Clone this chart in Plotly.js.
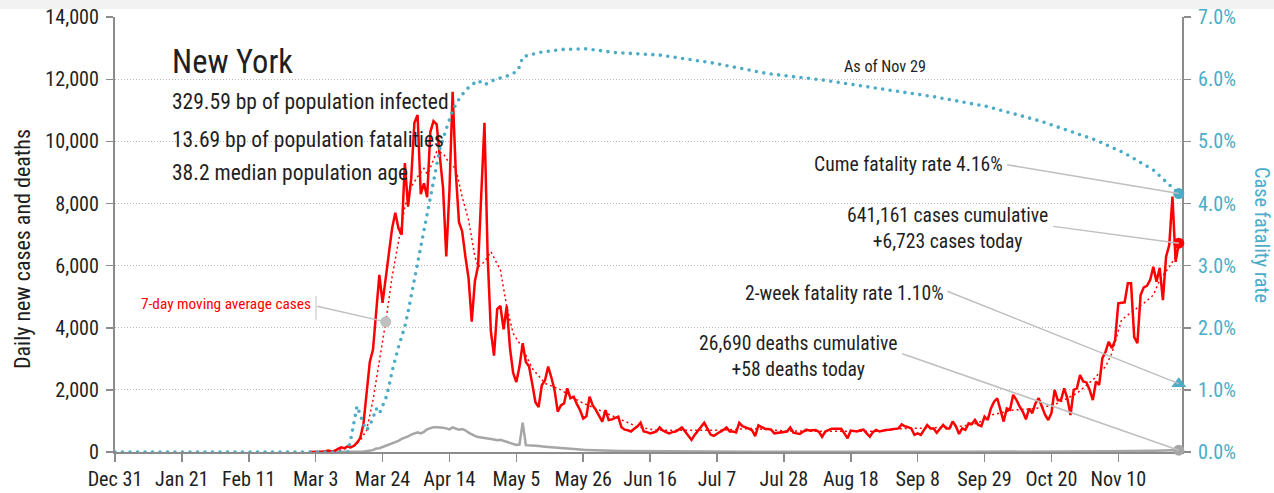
<!DOCTYPE html>
<html><head><meta charset="utf-8">
<script src="https://cdn.plot.ly/plotly-3.0.1.min.js"></script>
<style>
html,body{margin:0;padding:0;background:#ffffff;overflow:hidden;}
#chart{position:absolute;left:0;top:0;width:1274px;height:493px;}
.tracecfr path.js-line{stroke-linecap:round !important;}
</style></head><body><div id="chart"></div>
<script>
// ---------- data ----------
const stateName = 'New York';
const bpInfected = 329.59;
const bpFatalities = 13.69;
const medianAge = 38.2;
const asOfLabel = 'Nov 29';
const casesCumulative = 641161;
const deathsCumulative = 26690;
const cumeFatalityRate = 0.0416;
const twoWeekFatalityRate = 0.0110;

const seriesStart = '2020-03-01';
const dailyCases = [
  1, 0, 1, 9, 11, 22, 44,
  20, 40, 100, 150, 120, 180, 150,
  200, 300, 450, 900, 1800, 2900, 3300,
  4400, 5700, 4800, 5600, 6500, 7200, 7700,
  7200, 7000, 9300, 7900, 8800, 10600, 10850,
  8300, 8650, 8200, 10300, 10650, 10550, 9500,
  8500, 6300, 8400, 11600, 9000, 7400, 7100,
  6300, 5600, 4200, 5500, 6000, 8300, 10600,
  6300, 3900, 3100, 4600, 4700, 3950, 4700,
  3350, 2550, 2250, 2750, 3500, 2900, 2750,
  2200, 1600, 1450, 2150, 2300, 2750, 2400,
  2000, 1300, 1500, 1570, 2050, 1730, 1780,
  1550, 1350, 1080, 1150, 1780, 1500, 1350,
  1150, 980, 1350, 1030, 1050, 1100, 1140,
  800, 720, 700, 660, 750, 820, 940,
  660, 640, 600, 630, 660, 790, 690,
  640, 600, 640, 660, 720, 790, 660,
  520, 390, 550, 690, 800, 940, 750,
  560, 520, 600, 650, 710, 790, 660,
  660, 630, 940, 830, 800, 750, 700,
  510, 860, 800, 750, 740, 720, 600,
  610, 630, 650, 660, 790, 620, 600,
  580, 650, 720, 690, 700, 710, 650,
  490, 660, 700, 750, 750, 760, 750,
  600, 440, 690, 680, 660, 700, 720,
  600, 490, 650, 710, 660, 690, 710,
  720, 730, 750, 760, 890, 830, 800,
  760, 550, 600, 550, 700, 870, 760,
  760, 620, 760, 870, 760, 760, 980,
  830, 580, 760, 710, 920, 900, 1030,
  870, 830, 1140, 1030, 1400, 1620, 1730,
  1360, 980, 1400, 1360, 1840, 1680, 1470,
  1300, 1050, 1400, 1250, 1570, 1730, 1470,
  1200, 1030, 1250, 2000, 1670, 1670, 2050,
  1730, 1190, 2000, 2050, 2480, 2270, 2240,
  2000, 1670, 2270, 2160, 3020, 3230, 3550,
  3340, 3600, 4790, 4800, 4820, 5430, 5430,
  3700, 3500, 5050, 5300, 5350, 5540, 5960,
  5480, 5930, 4890, 6290, 6660, 8220, 6120,
  6723
];
const dailyDeaths = [
  0, 0, 0, 0, 0, 0, 0,
  0, 0, 0, 0, 0, 0, 2,
  3, 5, 10, 20, 30, 40, 60,
  110, 120, 160, 200, 220, 270, 300,
  360, 420, 450, 500, 560, 590, 630,
  600, 650, 730, 770, 800, 800, 800,
  780, 760, 730, 790, 760, 720, 740,
  700, 620, 560, 520, 480, 470, 460,
  440, 420, 400, 380, 390, 360, 330,
  300, 260, 230, 240, 945, 220, 220,
  220, 200, 190, 170, 170, 160, 150,
  140, 130, 120, 110, 105, 100, 90,
  80, 75, 70, 65, 60, 55, 55,
  50, 45, 45, 40, 40, 35, 35,
  30, 30, 30, 25, 25, 25, 25,
  22, 20, 18, 20, 17, 15, 14,
  13, 15, 16, 12, 14, 11, 10,
  12, 13, 32, 17, 13, 12, 10,
  9, 11, 12, 10, 9, 11, 8,
  10, 9, 12, 11, 8, 10, 9,
  7, 9, 8, 10, 8, 7, 6,
  8, 7, 9, 6, 8, 7, 6,
  5, 7, 6, 8, 7, 6, 5,
  5, 6, 7, 5, 6, 8, 5,
  4, 5, 6, 5, 7, 6, 5,
  4, 5, 6, 7, 5, 6, 4,
  5, 6, 5, 7, 6, 5, 4,
  5, 6, 7, 5, 6, 8, 5,
  6, 5, 7, 8, 6, 7, 5,
  6, 7, 8, 9, 7, 8, 6,
  9, 8, 10, 12, 11, 9, 10,
  12, 10, 13, 11, 14, 12, 11,
  13, 12, 14, 16, 13, 15, 12,
  14, 16, 18, 15, 17, 14, 16,
  15, 18, 17, 20, 19, 22, 18,
  21, 24, 26, 22, 25, 28, 24,
  27, 30, 29, 33, 31, 35, 32,
  34, 38, 36, 40, 37, 42, 39,
  45, 42, 48, 51, 47, 53, 55,
  58
];

const maDates = ['2020-03-01','2020-03-10','2020-03-13','2020-03-15','2020-03-17','2020-03-19','2020-03-21','2020-03-23','2020-03-25','2020-03-27','2020-03-29','2020-03-31','2020-04-02','2020-04-04','2020-04-06','2020-04-07','2020-04-08','2020-04-10','2020-04-12','2020-04-14','2020-04-16','2020-04-18','2020-04-20','2020-04-22','2020-04-23','2020-04-25','2020-04-27','2020-04-30','2020-05-02','2020-05-04','2020-05-07','2020-05-10','2020-05-14','2020-05-19','2020-05-25','2020-05-31','2020-06-06','2020-06-12','2020-06-18','2020-06-28','2020-07-08','2020-07-18','2020-07-28','2020-08-07','2020-08-17','2020-08-27','2020-09-02','2020-09-11','2020-09-22','2020-09-27','2020-10-01','2020-10-08','2020-10-15','2020-10-18','2020-10-22','2020-10-28','2020-11-02','2020-11-06','2020-11-08','2020-11-11','2020-11-15','2020-11-18','2020-11-21','2020-11-23','2020-11-26','2020-11-28'];
const maCases = [0,50,120,180,380,700,1670,2960,4190,5640,6820,7900,8540,8860,9130,8950,9150,9670,9620,9290,9130,8220,7470,6290,5960,6120,6450,5860,4680,3820,3340,2690,2210,2000,1620,1350,1080,810,700,690,700,760,680,670,680,670,750,770,830,930,1190,1350,1400,1450,1570,1890,2320,2750,3180,4250,4570,4790,5050,5540,5960,6290];
const maLabelDate = '2020-03-25';

const cfrDates = ['2019-12-31','2020-03-12','2020-03-13','2020-03-14','2020-03-15','2020-03-16','2020-03-17','2020-03-18','2020-03-19','2020-03-20','2020-03-21','2020-03-22','2020-03-23','2020-03-24','2020-03-25','2020-03-26','2020-03-27','2020-03-29','2020-03-31','2020-04-01','2020-04-03','2020-04-05','2020-04-07','2020-04-09','2020-04-11','2020-04-13','2020-04-15','2020-04-17','2020-04-19','2020-04-21','2020-04-23','2020-04-25','2020-04-28','2020-05-02','2020-05-05','2020-05-06','2020-05-07','2020-05-12','2020-05-19','2020-05-27','2020-06-05','2020-06-19','2020-07-06','2020-07-23','2020-08-09','2020-08-27','2020-09-13','2020-09-30','2020-10-17','2020-11-03','2020-11-12','2020-11-21','2020-11-29'];
const cfrRates = [0,0,0,0.002,0.0045,0.0074,0.006,0.0045,0.0035,0.0043,0.0055,0.007,0.0062,0.0075,0.0086,0.0105,0.013,0.0169,0.0202,0.0225,0.0277,0.033,0.0385,0.044,0.0488,0.052,0.055,0.0568,0.0582,0.0591,0.0598,0.0591,0.0599,0.0605,0.0612,0.062,0.0636,0.0643,0.0648,0.0649,0.0643,0.0639,0.0626,0.0609,0.0599,0.0585,0.0572,0.0556,0.0532,0.0502,0.0481,0.0454,0.0416];

const xTickStart = '2019-12-31';
const xRangeEnd = '2020-11-30';

// ---------- helpers ----------
function dayList(start, n){
  const out = []; const t0 = Date.parse(start + 'T00:00:00Z');
  for (let i = 0; i < n; i++) out.push(new Date(t0 + i * 864e5).toISOString().slice(0, 10));
  return out;
}
const dates = dayList(seriesStart, dailyCases.length);
const lastDate = dates[dates.length - 1];
const casesToday = dailyCases[dailyCases.length - 1];
const deathsToday = dailyDeaths[dailyDeaths.length - 1];
const maLabelValue = maCases[maDates.indexOf(maLabelDate)];
const fmt = v => v.toLocaleString('en-US');
const pct = v => (v * 100).toFixed(2) + '%';

// pick a narrow font that is actually installed
const ctx = document.createElement('canvas').getContext('2d');
function hasFont(name){
  const s = 'abcdefghijklmnopqrstuvwxyzABCDEFGHIJ0123456789';
  for (const base of ['monospace', 'serif']) {
    ctx.font = '40px ' + base; const a = ctx.measureText(s).width;
    ctx.font = '40px "' + name + '", ' + base; const b = ctx.measureText(s).width;
    if (Math.abs(a - b) > 0.5) return true;
  }
  return false;
}
const candidates = ['Liberation Sans Narrow', 'Arial Narrow', 'Roboto Condensed', 'Noto Sans Condensed',
                    'Open Sans Condensed', 'DejaVu Sans Condensed', 'Liberation Sans', 'Roboto'];
const chosen = candidates.find(hasFont) || 'sans-serif';
const FONT = '"' + chosen + '", sans-serif';
// font size that gives a text the width it has in the reference
function fit(text, targetPx, maxSize){
  ctx.font = '100px ' + FONT;
  const w = ctx.measureText(text).width;
  return Math.min(maxSize, 100 * targetPx / w);
}

const RED = '#ff0000', BLUE = '#4bacc6', GRAY = '#a6a6a6', AXIS = '#8c8c8c', LEADER = '#bfbfbf', TXT = '#1f1f1f';

const traces = [
  {x: dates, y: dailyDeaths, type: 'scatter', mode: 'lines', line: {color: GRAY, width: 2.5}, hoverinfo: 'skip'},
  {x: cfrDates, y: cfrRates, yaxis: 'y2', type: 'scatter', mode: 'lines', uid: 'cfr',
   line: {color: BLUE, width: 3.6, dash: '0px,7.5px'}, hoverinfo: 'skip'},
  {x: maDates, y: maCases, type: 'scatter', mode: 'lines', line: {color: RED, width: 1.5, dash: '2px,3px'}, hoverinfo: 'skip'},
  {x: dates, y: dailyCases, type: 'scatter', mode: 'lines', line: {color: RED, width: 2.5}, hoverinfo: 'skip'},
  {x: [maLabelDate], y: [maLabelValue], type: 'scatter', mode: 'markers', marker: {color: LEADER, size: 11}, cliponaxis: false},
  {x: [lastDate], y: [cumeFatalityRate], yaxis: 'y2', type: 'scatter', mode: 'markers', marker: {color: BLUE, size: 11}, cliponaxis: false},
  {x: [lastDate], y: [casesToday], type: 'scatter', mode: 'markers', marker: {color: RED, size: 11}, cliponaxis: false},
  {x: [lastDate], y: [twoWeekFatalityRate], yaxis: 'y2', type: 'scatter', mode: 'markers', marker: {color: BLUE, size: 13, symbol: 'triangle-up'}, cliponaxis: false},
  {x: [lastDate], y: [deathsToday], type: 'scatter', mode: 'markers', marker: {color: GRAY, size: 11}, cliponaxis: false}
];

// plot area in page pixels: left 115, right 1182, top 17, bottom 452
const PX = px => (px - 115) / 1067;
const PY = py => (452 - py) / 435;

function leader(x, y, yref, ax, ay){
  return {x: x, y: y, xref: 'x', yref: yref, text: '', showarrow: true, arrowhead: 0,
          arrowwidth: 1.5, arrowcolor: LEADER, ax: ax, ay: ay, standoff: 0};
}
function label(text, px, py, size, anchor, color, angle){
  return {x: PX(px), y: PY(py), xref: 'paper', yref: 'paper', text: text, showarrow: false,
          xanchor: anchor, yanchor: 'middle', align: 'center', textangle: angle || 0,
          font: {family: FONT, size: size, color: color || TXT}};
}

const t1 = 'Cume fatality rate ' + pct(cumeFatalityRate);
const t2a = fmt(casesCumulative) + ' cases cumulative', t2b = '+' + fmt(casesToday) + ' cases today';
const t3 = '2-week fatality rate ' + pct(twoWeekFatalityRate);
const t4a = fmt(deathsCumulative) + ' deaths cumulative', t4b = '+' + fmt(deathsToday) + ' deaths today';
const s1 = bpInfected.toFixed(2) + ' bp of population infected';
const s2 = bpFatalities.toFixed(2) + ' bp of population fatalities';
const s3 = medianAge.toFixed(1) + ' median population age';
const noteSize = (fit(t1, 187, 21) + fit(t2a, 200, 21) + fit(t3, 201, 21) + fit(t4a, 200, 21)) / 4;
const statSize = (fit(s1, 278, 24) + fit(s2, 272, 24) + fit(s3, 235, 24)) / 3;
const tickSize = (fit('14,000', 54, 21) + fit('Dec 31', 53, 21) + fit('7.0%', 39, 21)) / 3;

const annotations = [
  leader(lastDate, cumeFatalityRate, 'y2', -173, -29),
  leader(lastDate, casesToday, 'y', -127, -17),
  leader(lastDate, twoWeekFatalityRate, 'y2', -233, -93),
  leader(lastDate, deathsToday, 'y', -278, -97),
  leader(maLabelDate, maLabelValue, 'y', -70, -16),
  label(stateName, 170, 62, fit(stateName, 121, 33), 'left'),
  label(s1, 170, 102, statSize, 'left'),
  label(s2, 170, 139, statSize, 'left'),
  label(s3, 170, 172, statSize, 'left'),
  label('As of ' + asOfLabel, 885, 66, fit('As of ' + asOfLabel, 82, 17), 'center'),
  label(t1, 1005, 164, noteSize, 'right'),
  label(t2a + '<br>' + t2b, 1050, 228, noteSize, 'right'),
  label(t3, 946, 293, noteSize, 'right'),
  label(t4a + '<br>' + t4b, 900, 356, noteSize, 'right'),
  label('7-day moving average cases', 313, 304, fit('7-day moving average cases', 170, 16), 'right', RED),
  label('Daily new cases and deaths', 22, 249, fit('Daily new cases and deaths', 262, 22), 'center', TXT, -90),
  label('Case fatality rate', 1262, 235, fit('Case fatality rate', 136, 22), 'center', BLUE, 90)
];

const shapes = [
  {type: 'rect', xref: 'paper', yref: 'paper', x0: PX(0), x1: PX(1274), y0: PY(9), y1: PY(0),
   fillcolor: '#f2f2f2', line: {width: 0}, layer: 'below'},
  {type: 'line', xref: 'paper', yref: 'paper', x0: PX(316), x1: PX(316), y0: PY(320), y1: PY(296),
   line: {color: LEADER, width: 1}}
];

const layout = {
  width: 1274, height: 493,
  margin: {l: 115, r: 92, t: 17, b: 41, pad: 0},
  paper_bgcolor: '#ffffff', plot_bgcolor: '#ffffff',
  showlegend: false,
  font: {family: FONT, color: TXT},
  xaxis: {
    type: 'date', range: [xTickStart, xRangeEnd], tick0: xTickStart, dtick: 21 * 864e5,
    tickformat: '%b %-d', ticks: 'outside', ticklen: 8, tickwidth: 1.5, tickcolor: AXIS,
    showline: true, linecolor: AXIS, linewidth: 2, showgrid: false, zeroline: false,
    layer: 'below traces', tickfont: {family: FONT, size: tickSize, color: TXT}
  },
  yaxis: {
    range: [0, 14005], dtick: 2000, tickformat: ',d', ticks: 'outside', ticklen: 7, tickwidth: 1.5,
    tickcolor: AXIS, showline: true, linecolor: AXIS, linewidth: 2, zeroline: false,
    showgrid: true, gridcolor: '#b8b8b8', griddash: '1px,2px', gridwidth: 1, ticklabelstandoff: 3,
    layer: 'below traces', tickfont: {family: FONT, size: tickSize, color: TXT}
  },
  yaxis2: {
    overlaying: 'y', side: 'right', range: [0, 0.0700250], dtick: 0.01, tickformat: '.1%',
    ticks: 'outside', ticklen: 7, tickwidth: 1.5, tickcolor: AXIS, showline: true, linecolor: AXIS,
    linewidth: 2, showgrid: false, zeroline: false, layer: 'below traces', ticklabelstandoff: 3,
    tickfont: {family: FONT, size: tickSize, color: BLUE}
  },
  annotations: annotations,
  shapes: shapes
};

Plotly.newPlot('chart', traces, layout, {displayModeBar: false, staticPlot: true});
</script></body></html>
